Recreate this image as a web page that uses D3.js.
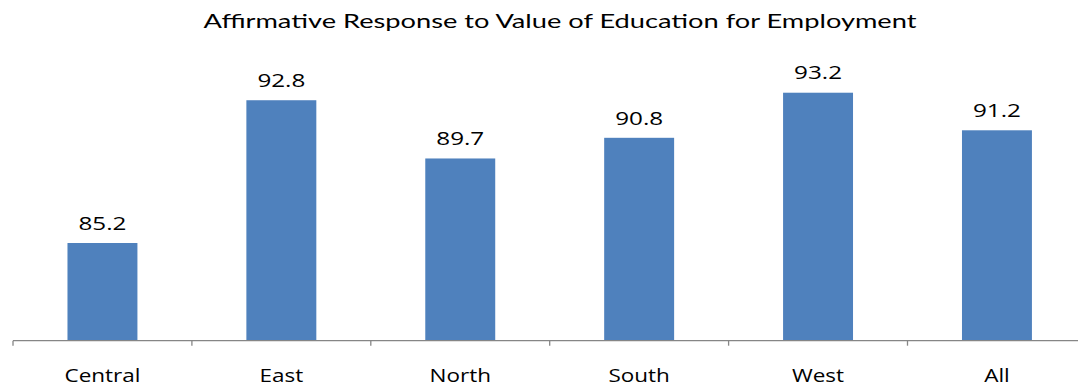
<!DOCTYPE html>
<html>
<head>
<meta charset="utf-8">
<script src="https://cdn.jsdelivr.net/npm/d3@7"></script>
<style>
  html, body { margin: 0; padding: 0; background: #fff; }
  svg { display: block; }
</style>
</head>
<body>
<svg id="chart" width="1078" height="387"></svg>
<script>
const categories = ["Central", "East", "North", "South", "West", "All"];
const values = [85.2, 92.8, 89.7, 90.8, 93.2, 91.2];
const yDomain = [80, 95];
const titleText = "Affirmative Response to Value of Education for Employment";

const svg = d3.select("#chart");
const axisY = 340.7;
const x = d3.scaleBand().domain(categories).range([13, 1086.4]).padding(0);
const y = d3.scaleLinear().domain(yDomain).range([axisY, 58.9]);
const barW = x.bandwidth() * 0.391;

function stretch(sel, factor) {
  sel.each(function() {
    const t = d3.select(this);
    const cx = +t.attr("data-x"), cy = +t.attr("data-y");
    t.attr("x", 0).attr("y", 0)
     .attr("transform", `translate(${cx},${cy}) scale(${factor},1)`);
  });
}

// Bars
svg.append("g").selectAll("rect")
  .data(categories)
  .join("rect")
  .attr("x", (d) => x(d) + x.bandwidth() / 2 - barW / 2)
  .attr("width", barW)
  .attr("y", (d, i) => y(values[i]))
  .attr("height", (d, i) => axisY - y(values[i]))
  .attr("fill", "#4F81BD");

// Axis line and boundary ticks
const axisG = svg.append("g").attr("stroke", "#868686").attr("stroke-width", 1.3);
axisG.append("line")
  .attr("x1", x.range()[0]).attr("x2", x.range()[1])
  .attr("y1", axisY).attr("y2", axisY);
const bounds = categories.map((d) => x(d)).concat([x.range()[1]]);
axisG.selectAll("line.tick")
  .data(bounds)
  .join("line")
  .attr("class", "tick")
  .attr("x1", (d) => d).attr("x2", (d) => d)
  .attr("y1", axisY).attr("y2", axisY + 5);

// Category labels
const catLabels = svg.append("g").selectAll("text")
  .data(categories)
  .join("text")
  .attr("data-x", (d) => x(d) + x.bandwidth() / 2)
  .attr("data-y", 382)
  .attr("text-anchor", "middle")
  .attr("font-family", "'Open Sans', sans-serif")
  .attr("font-size", 17.5)
  .attr("fill", "#000")
  .text((d) => d);
{
  const n = catLabels.filter((d) => d === "Central").node().getComputedTextLength();
  stretch(catLabels, 76 / n);
}

// Value labels
const valLabels = svg.append("g").selectAll("text")
  .data(categories)
  .join("text")
  .attr("data-x", (d) => x(d) + x.bandwidth() / 2)
  .attr("data-y", (d, i) => y(values[i]) - 13.3)
  .attr("text-anchor", "middle")
  .attr("font-family", "'Open Sans', sans-serif")
  .attr("font-size", 19)
  .attr("fill", "#000")
  .text((d, i) => values[i].toFixed(1));
{
  const n = valLabels.filter((d) => d === "Central").node().getComputedTextLength();
  stretch(valLabels, 48 / n);
}

// Title
const title = svg.append("text")
  .attr("data-x", 560)
  .attr("data-y", 27.5)
  .attr("text-anchor", "middle")
  .attr("font-family", "Lato, 'Open Sans', sans-serif")
  .attr("font-size", 19)
  .attr("fill", "#000")
  .text(titleText);
{
  const n = title.node().getComputedTextLength();
  stretch(title, 713 / n);
}
</script>
</body>
</html>
